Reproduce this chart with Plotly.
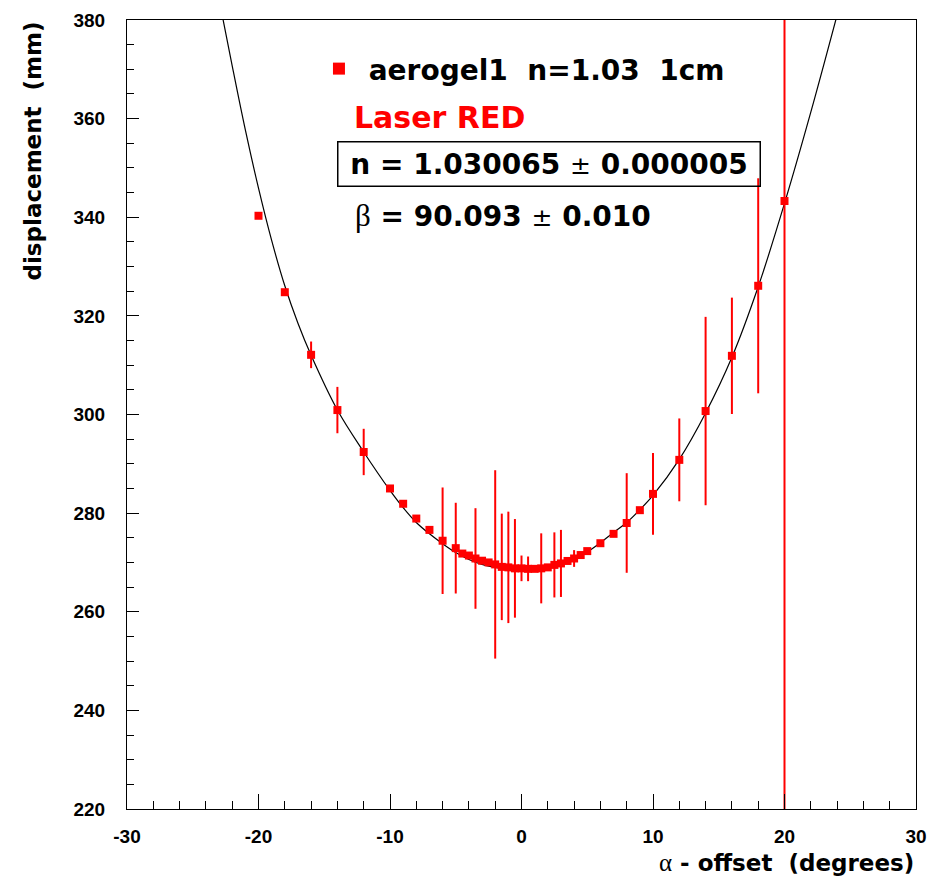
import plotly.graph_objects as go

# ---- data ----
alpha = [-20, -18, -16, -14, -12, -10, -9, -8, -7, -6,
         -5, -4.5, -4, -3.5, -3, -2.5, -2, -1.5, -1, -0.5,
         0, 0.5, 1, 1.5, 2, 2.5, 3, 3.5, 4, 4.5,
         5, 6, 7, 8, 9, 10, 12, 14, 16, 18, 20]
disp = [340.3, 324.8, 312.1, 300.9, 292.4, 285.0, 281.9, 278.9, 276.6, 274.4,
        272.9, 271.8, 271.4, 270.8, 270.35, 270.0, 269.6, 269.1, 269.0, 268.8,
        268.8, 268.7, 268.7, 268.8, 269.0, 269.5, 269.8, 270.3, 270.8, 271.5,
        272.3, 273.9, 275.8, 278.0, 280.6, 283.9, 290.8, 300.7, 311.9, 326.1, 343.3]
disp_err = [0, 0, 2.7, 4.7, 4.7, 0, 0, 0, 0, 10.8,
            9.2, 0, 0, 10.2, 0, 0, 19.1, 10.8, 11.3, 10.0,
            2.6, 2.5, 0, 7.1, 0, 6.6, 6.8, 0, 1.7, 0,
            0, 0, 0, 10.1, 0, 8.3, 8.4, 19.1, 11.8, 21.8, 250]

# fit curve
fit_alpha = [-23.0, -22, -21, -20, -19, -18, -17, -16, -14, -12, -10, -9, -8, -7, -6, -5, -4,
             -3, -2, -1, 0, 1, 2, 3, 4, 5, 6, 7, 8, 9, 10, 12, 14, 16, 18, 20, 22, 24.2]
fit_disp = [384.2, 370.7, 357.7, 345.9, 335.3, 326.1, 318.5, 312.0, 300.9, 292.4, 284.6,
            281.1, 278.1, 275.8, 273.8, 272.0, 270.6, 269.6, 269.0, 268.6, 268.5, 268.6,
            268.9, 269.6, 270.6, 272.1, 274.0, 276.1, 278.1, 280.7, 283.6, 290.9, 300.3,
            311.6, 325.9, 342.8, 361.3, 383.0]

series_name = "\u00a0aerogel1\u00a0\u00a0n=1.03\u00a0\u00a01cm"
x_ticks = [-30, -20, -10, 0, 10, 20, 30]
x_ticktext = ["-30", "-20", "-10", "0", "10", "20", "30"]
y_ticks = [220, 240, 260, 280, 300, 320, 340, 360, 380]
y_ticktext = ["220", "240", "260", "280", "300", "320", "340", "360", "380"]

BIG = "DejaVu Sans"
PM = "<span style=\"font-family:DejaVu Sans;font-weight:normal;font-size:25px\">±</span>"
BETA = "<span style=\"font-family:Liberation Serif;font-size:31px\">β</span>"
ALPHA = "<span style=\"font-family:Liberation Serif;font-size:25px\">α</span>"

fig = go.Figure()
fig.add_trace(go.Scatter(
    x=fit_alpha, y=fit_disp, mode="lines", line=dict(color="black", width=1.2, shape="spline"),
    showlegend=False, hoverinfo="skip"))
fig.add_trace(go.Scatter(
    x=alpha, y=disp, mode="markers", name=series_name,
    marker=dict(symbol="square", size=8, color="#ff0000"),
    error_y=dict(type="data", array=disp_err, visible=True, color="#ff0000", thickness=2, width=0)))

axis_common = dict(
    showgrid=False, zeroline=False, showline=True, linecolor="black", linewidth=1, mirror=True,
    ticks="inside", tickcolor="black", tickwidth=1, automargin=False,
    tickfont=dict(family="Liberation Sans", size=19, weight="bold", color="black"),
)
fig.update_xaxes(range=[-30, 30], tickvals=x_ticks, ticktext=x_ticktext, ticklen=15,
                 ticklabelstandoff=10,
                 minor=dict(dtick=2, ticks="inside", ticklen=8, tickcolor="black", tickwidth=1),
                 **axis_common)
fig.update_yaxes(range=[220, 380], tickvals=y_ticks, ticktext=y_ticktext, ticklen=12,
                 ticklabelstandoff=17,
                 minor=dict(dtick=5, ticks="inside", ticklen=7, tickcolor="black", tickwidth=1),
                 **axis_common)

annotations = [
    dict(x=-12.9, y=360.3, xref="x", yref="y", xanchor="left", yanchor="middle",
         text="<b>Laser RED</b>", showarrow=False,
         font=dict(family=BIG, size=30, color="#ff0000")),
    dict(x=2.12, y=350.7, xref="x", yref="y", xanchor="center", yanchor="middle",
         text="<b>n = 1.030065 </b>" + PM + "<b> 0.000005</b>",
         showarrow=False, font=dict(family=BIG, size=28, color="black"),
         bordercolor="black", borderwidth=1.5, borderpad=0, width=421, height=43, align="center"),
    dict(x=-12.85, y=340.45, xref="x", yref="y", xanchor="left", yanchor="middle",
         text=BETA + "<b> = 90.093 </b>" + PM + "<b> 0.010</b>",
         showarrow=False, font=dict(family=BIG, size=28, color="black")),
    dict(x=-0.1204, y=1.0, xref="paper", yref="paper", xanchor="center", yanchor="top",
         text="<b>displacement\u00a0\u00a0(mm)</b>", textangle=-90, showarrow=False,
         font=dict(family=BIG, size=23, color="black")),
    dict(x=1.0, y=-0.0684, xref="paper", yref="paper", xanchor="right", yanchor="middle",
         text=ALPHA + "<b> - offset\u00a0\u00a0(degrees)</b>",
         showarrow=False, font=dict(family=BIG, size=23, color="black")),
]

fig.update_layout(
    width=932, height=877,
    margin=dict(l=127, r=16, t=20, b=68, autoexpand=False),
    paper_bgcolor="white", plot_bgcolor="white",
    showlegend=True,
    legend=dict(x=0.2433, y=0.938, xanchor="left", yanchor="middle",
                font=dict(family=BIG, size=28, weight="bold", color="black"),
                bgcolor="rgba(0,0,0,0)", itemsizing="constant", borderwidth=0),
    annotations=annotations,
)

fig.write_html("out.html")
